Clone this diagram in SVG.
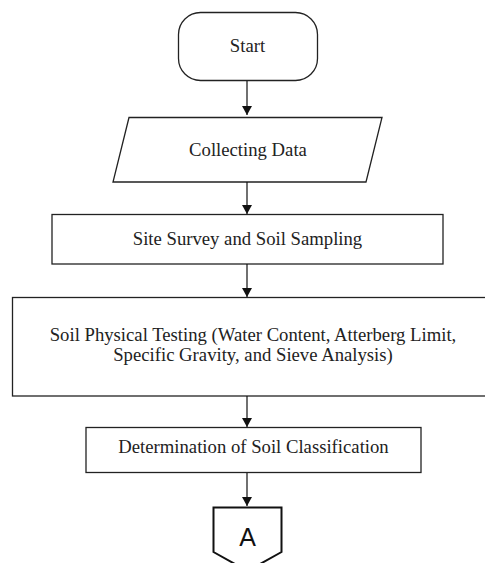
<svg xmlns="http://www.w3.org/2000/svg" width="485" height="563" viewBox="0 0 485 563">
<defs>
<marker id="ah" markerWidth="9" markerHeight="10" refX="9" refY="5" orient="auto" markerUnits="userSpaceOnUse">
<path d="M0,0 L9,5 L0,10 Z" fill="#111"/>
</marker>
<style>
.n{fill:#fff;stroke:#222;stroke-width:1.3}
.t{font-family:"Liberation Serif","Times New Roman",serif;font-size:18.7px;fill:#222;text-anchor:middle}
.c{stroke:#111;stroke-width:1.2;fill:none;marker-end:url(#ah)}
</style>
</defs>
<rect width="485" height="563" fill="#fff"/>
<g id="start">
<rect class="n" x="178.5" y="12.5" width="139" height="68" rx="22"/>
<text class="t" x="247.5" y="52">Start</text>
</g>
<g id="collecting">
<polygon class="n" points="129,117.5 382,117.5 366,182 113,182"/>
<text class="t" x="248" y="156">Collecting Data</text>
</g>
<g id="survey">
<rect class="n" x="52" y="214.5" width="391" height="49.5"/>
<text class="t" x="247.5" y="245">Site Survey and Soil Sampling</text>
</g>
<g id="testing">
<rect class="n" x="12.5" y="297.5" width="482" height="98.5"/>
<text class="t" x="253" y="341">Soil Physical Testing (Water Content, Atterberg Limit,</text>
<text class="t" x="253" y="361">Specific Gravity, and Sieve Analysis)</text>
</g>
<g id="classification">
<rect class="n" x="86" y="427.5" width="335" height="45"/>
<text class="t" x="253.5" y="453">Determination of Soil Classification</text>
</g>
<g id="connectorA">
<polygon points="213.5,507.5 281.5,507.5 281.5,552 247.5,571 213.5,552" fill="#fff" stroke="#111" stroke-width="2"/>
<text x="247.5" y="546" font-family="Liberation Sans,Arial,sans-serif" font-size="25" fill="#111" text-anchor="middle">A</text>
</g>
<g id="connectors">
<line class="c" x1="247" y1="81" x2="247" y2="115"/>
<line class="c" x1="247" y1="182" x2="247" y2="214"/>
<line class="c" x1="247" y1="264" x2="247" y2="297"/>
<line class="c" x1="247" y1="396" x2="247" y2="427"/>
<line class="c" x1="247" y1="473" x2="247" y2="506"/>
</g>
</svg>
